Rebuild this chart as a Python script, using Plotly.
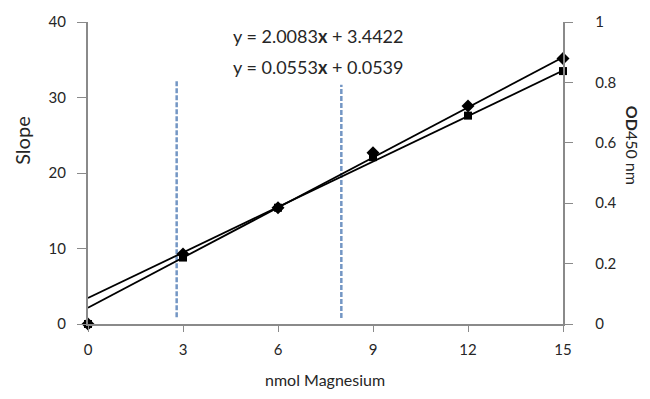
import plotly.graph_objects as go

# ---- data ----
nmol = [0, 3, 6, 9, 12, 15]
slope_vals = [0, 8.8, 15.4, 22.1, 27.6, 33.5]
od_vals = [0, 0.232, 0.385, 0.567, 0.722, 0.879]

slope_fit = [2.0083, 3.4422]   # m, b
od_fit = [0.0553, 0.0539]      # m, b
fit_x = [0, 15]

guide_x = [2.8, 8.0]
guide_top = [32.4, 31.7]
guide_bottom = [0.9, 0.8]

x_ticks = [0, 3, 6, 9, 12, 15]
y_ticks = [0, 10, 20, 30, 40]
y2_ticks = [0, 0.2, 0.4, 0.6, 0.8, 1]
y2_labels = ["0", "0.2", "0.4", "0.6", "0.8", "1"]

FONT = "Lato"
TXT = "#262626"
AX = "#8a8a8a"
PAD = "\u00a0" * 5

fig = go.Figure()

# guide dashed lines
for gx, gt, gb in zip(guide_x, guide_top, guide_bottom):
    fig.add_trace(go.Scatter(x=[gx, gx], y=[gb, gt], mode="lines",
                             line=dict(color="#7396c4", width=2.5, dash="5px,2px"),
                             showlegend=False, hoverinfo="skip"))

# trendlines
fig.add_trace(go.Scatter(x=fit_x, y=[slope_fit[0] * v + slope_fit[1] for v in fit_x],
                         mode="lines", line=dict(color="black", width=1.8), showlegend=False))
fig.add_trace(go.Scatter(x=fit_x, y=[od_fit[0] * v + od_fit[1] for v in fit_x],
                         mode="lines", line=dict(color="black", width=1.8), showlegend=False,
                         yaxis="y2"))

# points
fig.add_trace(go.Scatter(x=nmol, y=slope_vals, mode="markers", cliponaxis=False,
                         marker=dict(symbol="square", size=8, color="black"), showlegend=False))
fig.add_trace(go.Scatter(x=nmol, y=od_vals, mode="markers", cliponaxis=False,
                         marker=dict(symbol="diamond", size=10, color="black"), showlegend=False,
                         yaxis="y2"))

W, H = 650, 399
l, r, t, b = 88, 87, 19, 75

fig.update_layout(
    width=W, height=H,
    margin=dict(l=l, r=r, t=t, b=b),
    paper_bgcolor="white", plot_bgcolor="white",
    font=dict(family=FONT, size=15, color=TXT),
    xaxis=dict(range=[0, 15], tickvals=x_ticks, showgrid=False, zeroline=False,
               showline=True, linecolor=AX, linewidth=2, ticks="outside",
               ticklen=6, tickcolor=AX, tickwidth=1, ticklabelstandoff=5),
    yaxis=dict(range=[0, 40], tickvals=y_ticks, showgrid=False, zeroline=False,
               showline=True, linecolor=AX, linewidth=2, ticks="outside",
               ticklen=9, tickcolor=AX, tickwidth=1, ticklabelstandoff=8),
    yaxis2=dict(range=[0, 1], tickvals=y2_ticks, ticktext=[PAD + s for s in y2_labels],
                overlaying="y", side="right",
                showgrid=False, zeroline=False, showline=True, linecolor=AX, linewidth=2,
                ticks="outside", ticklen=8, tickcolor=AX, tickwidth=1),
)

pw, ph = W - l - r, H - t - b


def px_ann(text, px, py, size, angle=0):
    return dict(text=text, xref="paper", yref="paper", x=(px - l) / pw,
                y=(H - b - py) / ph, xanchor="center", yanchor="middle",
                showarrow=False, textangle=angle, font=dict(size=size, color=TXT))


fig.update_layout(annotations=[
    px_ann("Slope", 22, 139, 20, -90),
    px_ann("<b>OD</b>450 nm", 632, 143, 16, 90),
    px_ann("nmol Magnesium", 325, 380, 16),
    px_ann("y = 2.0083<b>x</b> + 3.4422", 318, 33, 18),
    px_ann("y = 0.0553<b>x</b> + 0.0539", 318, 64, 18),
])

fig.write_html("out.html", config={"displayModeBar": False},
               post_script="document.body.style.margin='0';")
